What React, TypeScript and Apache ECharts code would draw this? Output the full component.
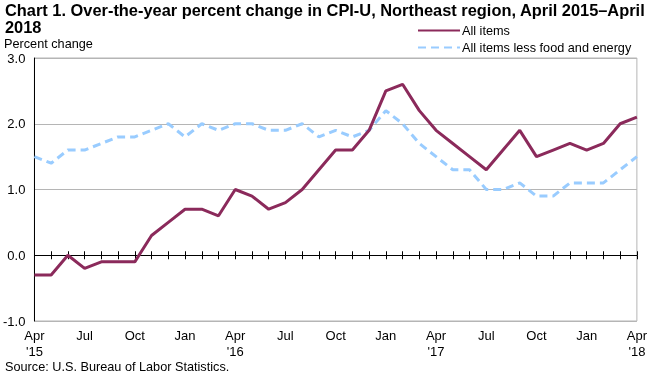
import React, { useEffect, useRef } from "react";
import * as echarts from "echarts";

const months: string[] = [
  "Apr 2015", "May 2015", "Jun 2015", "Jul 2015", "Aug 2015", "Sep 2015", "Oct 2015", "Nov 2015", "Dec 2015",
  "Jan 2016", "Feb 2016", "Mar 2016", "Apr 2016", "May 2016", "Jun 2016", "Jul 2016", "Aug 2016", "Sep 2016",
  "Oct 2016", "Nov 2016", "Dec 2016", "Jan 2017", "Feb 2017", "Mar 2017", "Apr 2017", "May 2017", "Jun 2017",
  "Jul 2017", "Aug 2017", "Sep 2017", "Oct 2017", "Nov 2017", "Dec 2017", "Jan 2018", "Feb 2018", "Mar 2018",
  "Apr 2018",
];

const tickLabels: string[] = [
  "Apr\n'15", "", "", "Jul", "", "", "Oct", "", "",
  "Jan", "", "", "Apr\n'16", "", "", "Jul", "", "",
  "Oct", "", "", "Jan", "", "", "Apr\n'17", "", "",
  "Jul", "", "", "Oct", "", "", "Jan", "", "",
  "Apr\n'18",
];

const allItems: number[] = [
  -0.3, -0.3, 0.0, -0.2, -0.1, -0.1, -0.1, 0.3, 0.5,
  0.7, 0.7, 0.6, 1.0, 0.9, 0.7, 0.8, 1.0, 1.3,
  1.6, 1.6, 1.9, 2.5, 2.6, 2.2, 1.9, 1.7, 1.5,
  1.3, 1.6, 1.9, 1.5, 1.6, 1.7, 1.6, 1.7, 2.0,
  2.1,
];

const lessFoodEnergy: number[] = [
  1.5, 1.4, 1.6, 1.6, 1.7, 1.8, 1.8, 1.9, 2.0,
  1.8, 2.0, 1.9, 2.0, 2.0, 1.9, 1.9, 2.0, 1.8,
  1.9, 1.8, 1.9, 2.2, 2.0, 1.7, 1.5, 1.3, 1.3,
  1.0, 1.0, 1.1, 0.9, 0.9, 1.1, 1.1, 1.1, 1.3,
  1.5,
];

const FONT = "'Liberation Sans', Arial, sans-serif";

export default function App() {
  const ref = useRef<HTMLDivElement>(null);
  useEffect(() => {
    if (!ref.current) return;
    const chart = echarts.init(ref.current, undefined, { renderer: "svg" });
    const yBase = {
      type: "value" as const,
      min: -1,
      max: 3,
      interval: 1,
    };
    chart.setOption({
      animation: false,
      textStyle: { fontFamily: FONT },
      title: {
        text: "Chart 1. Over-the-year percent change in CPI-U, Northeast region, April 2015\u2013April\n2018",
        left: 5,
        top: 1,
        padding: 0,
        textStyle: { fontFamily: FONT, fontSize: 16.4, fontWeight: "bold", color: "#000", lineHeight: 17 },
      },
      legend: {
        orient: "vertical",
        left: 417,
        top: 24,
        padding: 0,
        itemGap: 4,
        itemWidth: 42,
        itemHeight: 12,
        itemStyle: { opacity: 0 },
        textStyle: { fontFamily: FONT, fontSize: 12.7, color: "#000", padding: [0, 0, 0, -3] },
        data: ["All items", "All items less food and energy"],
      },
      grid: {
        left: 33,
        right: 12,
        top: 58,
        bottom: 52,
        show: true,
        borderColor: "#b5b5b5",
        borderWidth: 1,
        backgroundColor: "transparent",
      },
      graphic: [
        {
          type: "text",
          left: 4,
          top: 37,
          style: { text: "Percent change", font: `12.7px ${FONT}`, fill: "#000" },
        },
        {
          type: "text",
          left: 5,
          top: 360,
          style: { text: "Source: U.S. Bureau of Labor Statistics.", font: `12.7px ${FONT}`, fill: "#000" },
        },
      ],
      xAxis: [
        {
          type: "category",
          data: months,
          boundaryGap: false,
          axisLine: { show: false, onZero: false },
          axisTick: { show: false },
          splitLine: { show: false },
          axisLabel: {
            interval: 0,
            margin: 6,
            fontFamily: FONT,
            fontSize: 13,
            color: "#000",
            lineHeight: 16,
            formatter: (_v: string, i: number) => tickLabels[i],
          },
        },
        {
          type: "category",
          data: months,
          boundaryGap: false,
          position: "bottom",
          axisLine: { show: true, onZero: true, onZeroAxisIndex: 0, lineStyle: { color: "#000", width: 1 } },
          axisTick: { show: true, interval: 0, length: 4, lineStyle: { color: "#000" } },
          axisLabel: { show: false },
          splitLine: { show: false },
        },
        {
          type: "category",
          data: months,
          boundaryGap: false,
          position: "bottom",
          axisLine: { show: false, onZero: true, onZeroAxisIndex: 1 },
          axisTick: { show: true, inside: true, interval: 0, length: 4, lineStyle: { color: "#000" } },
          axisLabel: { show: false },
          splitLine: { show: false },
        },
      ],
      yAxis: [
        {
          ...yBase,
          axisLine: { show: true, onZero: false, lineStyle: { color: "#000", width: 1 } },
          axisTick: { show: false },
          splitLine: { show: true, lineStyle: { color: "#b5b5b5", width: 1 } },
          axisLabel: {
            margin: 9,
            fontFamily: FONT,
            fontSize: 13,
            color: "#000",
            formatter: (v: number) => v.toFixed(1),
          },
        },
        {
          ...yBase,
          show: false,
          splitLine: { show: false },
        },
      ],
      series: [
        {
          name: "All items",
          type: "line",
          data: allItems,
          xAxisIndex: 0,
          yAxisIndex: 0,
          symbol: "none",
          lineStyle: { color: "#8B2A5B", width: 3 },
          itemStyle: { color: "#8B2A5B" },
          z: 5,
        },
        {
          name: "All items less food and energy",
          type: "line",
          data: lessFoodEnergy,
          xAxisIndex: 0,
          yAxisIndex: 0,
          symbol: "none",
          lineStyle: { color: "#99CCFF", width: 3, type: [8, 5] },
          itemStyle: { color: "#99CCFF" },
          z: 4,
        },
      ],
    });
    return () => chart.dispose();
  }, []);
  return <div ref={ref} style={{ width: 650, height: 373, position: "fixed", left: 0, top: 0 }} />;
}
